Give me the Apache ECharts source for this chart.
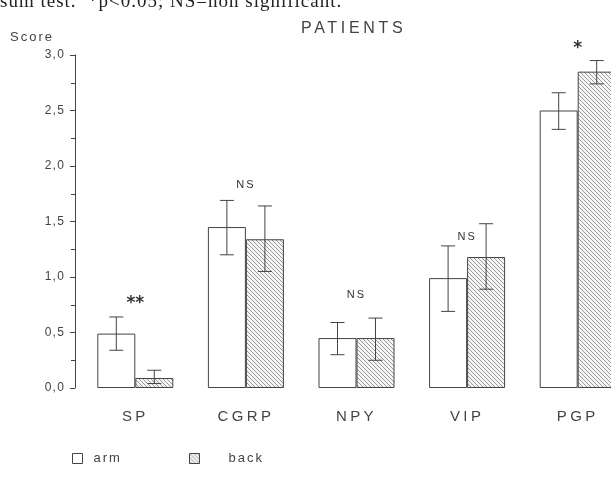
<!DOCTYPE html>
<html><head><meta charset="utf-8">
<script src="https://cdn.jsdelivr.net/npm/echarts@6/dist/echarts.min.js"></script>
<style>html,body{margin:0;padding:0;background:#fff}#c{width:611px;height:487px}</style>
</head><body><div id="c"></div>
<script>
const categories = ['SP', 'CGRP', 'NPY', 'VIP', 'PGP'];
const armMean  = [0.49, 1.45, 0.45, 0.99, 2.50];
const armLow   = [0.34, 1.20, 0.30, 0.69, 2.33];
const armHigh  = [0.64, 1.69, 0.59, 1.28, 2.66];
const backMean = [0.09, 1.34, 0.45, 1.18, 2.85];
const backLow  = [0.04, 1.05, 0.25, 0.89, 2.74];
const backHigh = [0.16, 1.64, 0.63, 1.48, 2.95];
const marks = ['**', 'NS', 'NS', 'NS', '*'];
const markLevel = [0.76, 1.83, 0.84, 1.36, 3.06];

// letter tracking of the original typesetting, by font size (px)
const TRACK = { 11: 2, 12: 1.2, 13: 2, 15: 3.4, 16: 3.7, 19: 1 };
(function () {
  const P = window.CanvasRenderingContext2D && CanvasRenderingContext2D.prototype;
  if (!P || !('letterSpacing' in P)) return;
  function setTrack(ctx) {
    const m = /(\d+(?:\.\d+)?)px/.exec(ctx.font || '');
    const t = m ? TRACK[Math.round(parseFloat(m[1]))] : 0;
    ctx.letterSpacing = (t || 0) + 'px';
  }
  const f = P.fillText, s = P.strokeText, me = P.measureText;
  P.fillText = function () { setTrack(this); return f.apply(this, arguments); };
  P.strokeText = function () { setTrack(this); return s.apply(this, arguments); };
  P.measureText = function () { setTrack(this); return me.apply(this, arguments); };
})();

function hatch() {
  const c = document.createElement('canvas');
  c.width = 4; c.height = 4;
  const g = c.getContext('2d');
  g.fillStyle = '#f6f6f6'; g.fillRect(0, 0, 4, 4);
  g.strokeStyle = '#9a9a9a'; g.lineWidth = 1;
  g.beginPath();
  g.moveTo(-1, -1); g.lineTo(5, 5);
  g.moveTo(-1, 3); g.lineTo(1, 5);
  g.moveTo(3, -1); g.lineTo(5, 1);
  g.stroke();
  return c;
}
const BW = 38;
const ink = '#444444';
const chart = echarts.init(document.getElementById('c'));
function errSeries(name, low, high, side) {
  return {
    type: 'custom', name: name + ' err', z: 5,
    data: categories.map((c, i) => [i, low[i], high[i]]),
    renderItem: function (params, api) {
      const lo = api.coord([api.value(0), api.value(1)]);
      const hi = api.coord([api.value(0), api.value(2)]);
      const x = lo[0] + side * BW / 2;
      const w = 7;
      return { type: 'group', children: [
        { type: 'line', shape: { x1: x, y1: lo[1], x2: x, y2: hi[1] }, style: { stroke: ink, lineWidth: 1 } },
        { type: 'line', shape: { x1: x - w, y1: lo[1], x2: x + w, y2: lo[1] }, style: { stroke: ink, lineWidth: 1 } },
        { type: 'line', shape: { x1: x - w, y1: hi[1], x2: x + w, y2: hi[1] }, style: { stroke: ink, lineWidth: 1 } }
      ]};
    }
  };
}
chart.setOption({
  animation: false,
  backgroundColor: '#ffffff',
  textStyle: { fontFamily: 'Liberation Sans, Arial, sans-serif' },
  graphic: [
    { type: 'text', left: 0, top: -8, style: { text: 'sum test.  *p<0.05; NS=non significant.', font: '19px "Liberation Serif", serif', fill: '#222' } },
    { type: 'text', left: 10, top: 30, style: { text: 'Score', font: '13px "Liberation Sans", sans-serif', fill: ink } },
    { type: 'text', left: 301, top: 19, style: { text: 'PATIENTS', font: '16px "Liberation Sans", sans-serif', fill: ink } }
  ],
  legend: [
    { data: ['arm'], left: 72, top: 451, padding: 0, itemWidth: 10, itemHeight: 10, icon: 'rect',
      itemStyle: { borderWidth: 1 },
      textStyle: { fontSize: 13, color: ink, padding: [0, 0, 0, 6] } },
    { data: ['back'], left: 189, top: 451, padding: 0, itemWidth: 10, itemHeight: 10, icon: 'rect',
      itemStyle: { borderWidth: 1 },
      textStyle: { fontSize: 13, color: ink, padding: [0, 0, 0, 24] } }
  ],
  grid: { left: 80, top: 55, width: 553, height: 333, outerBoundsMode: 'none', containLabel: false },
  xAxis: {
    type: 'category', data: categories,
    axisLine: { show: false }, axisTick: { show: false },
    axisLabel: { fontSize: 15, color: ink, margin: 20 }
  },
  yAxis: {
    type: 'value', min: 0, max: 3, interval: 0.5, offset: 5,
    axisLine: { show: true, lineStyle: { color: ink, width: 1 } },
    axisTick: { show: true, length: 5, lineStyle: { color: ink } },
    minorTick: { show: true, splitNumber: 2, length: 4, lineStyle: { color: ink } },
    splitLine: { show: false },
    axisLabel: { fontSize: 12, color: ink, margin: 10, formatter: v => v.toFixed(1).replace('.', ',') }
  },
  series: [
    { name: 'arm', type: 'bar', data: armMean, barWidth: BW, barGap: '0%',
      itemStyle: { color: '#ffffff', borderColor: ink, borderWidth: 1 } },
    { name: 'back', type: 'bar', data: backMean, barWidth: BW, barGap: '0%',
      itemStyle: { color: { image: hatch(), repeat: 'repeat' }, borderColor: ink, borderWidth: 1 } },
    errSeries('arm', armLow, armHigh, -1),
    errSeries('back', backLow, backHigh, 1),
    { type: 'custom', name: 'marks', z: 6,
      data: categories.map((c, i) => [i, markLevel[i]]),
      renderItem: function (params, api) {
        const p = api.coord([api.value(0), api.value(1)]);
        const t = marks[params.dataIndex];
        const star = t.indexOf('*') >= 0;
        return { type: 'text', x: p[0], y: p[1], style: {
          text: t, align: 'center', verticalAlign: 'middle',
          font: star ? 'bold 17px "DejaVu Sans", sans-serif' : '11px "Liberation Sans", sans-serif',
          fill: '#333' } };
      }
    }
  ]
});
</script>
</body></html>
